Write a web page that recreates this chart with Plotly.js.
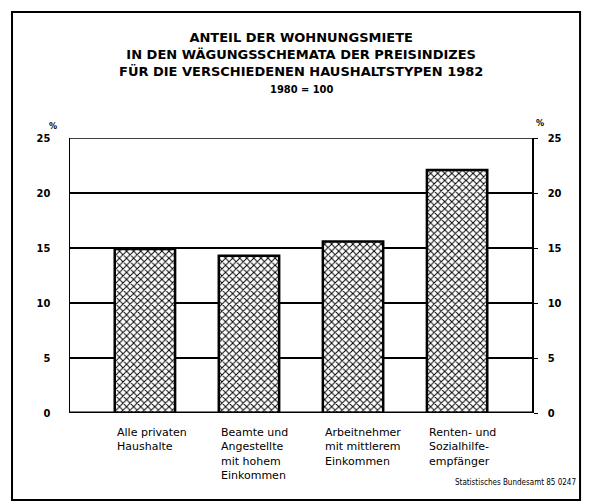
<!DOCTYPE html>
<html><head><meta charset="utf-8">
<script src="https://cdn.plot.ly/plotly-3.0.1.min.js"></script>
<style>body{margin:0;background:#fff}#c{width:598px;height:504px}</style>
</head><body><div id="c"></div>
<script>
const categories = [
  "Alle privaten<br>Haushalte",
  "Beamte und<br>Angestellte<br>mit hohem<br>Einkommen",
  "Arbeitnehmer<br>mit mittlerem<br>Einkommen",
  "Renten- und<br>Sozialhilfe-<br>empfänger"
];
const values = [14.9, 14.3, 15.6, 22.1];
const yTicks = [0, 5, 10, 15, 20, 25];
const titleLines = ["ANTEIL DER WOHNUNGSMIETE", "IN DEN WÄGUNGSSCHEMATA DER PREISINDIZES", "FÜR DIE VERSCHIEDENEN HAUSHALTSTYPEN 1982", "1980 = 100"];
const source = "Statistisches Bundesamt 85 0247";

const pos = categories.map((c, i) => i);
const font = "'DejaVu Sans Condensed', 'Liberation Sans Narrow', sans-serif";
const wide = "'DejaVu Sans', sans-serif";

const trace = {
  type: "bar", x: pos, y: values, width: 0.58,
  marker: {color: "#fff", line: {color: "#000", width: 2.5},
    pattern: {shape: "x", fgcolor: "#000", bgcolor: "#fff", size: 5, solidity: 0.35}},
  hoverinfo: "none"
};
const trace2 = {type: "scatter", x: [0], y: [0], yaxis: "y2", mode: "none", showlegend: false, hoverinfo: "none"};

const annotations = [];
categories.forEach((c, i) => {
  annotations.push({x: i - 0.29, y: -0.04, xref: "x", yref: "paper", text: c, showarrow: false,
    xanchor: "left", yanchor: "top", align: "left", font: {family: wide, size: 11, color: "#000"}});
});
annotations.push({x: 0.5, y: 1.40, xref: "paper", yref: "paper", showarrow: false, yanchor: "top",
  text: "<b>" + titleLines.slice(0, 3).join("<br>") + "</b>", font: {family: wide, size: 13, color: "#000"}});
annotations.push({x: 0.5, y: 1.175, xref: "paper", yref: "paper", showarrow: false, yanchor: "middle",
  text: "<b>" + titleLines[3] + "</b>", font: {family: font, size: 11, color: "#000"}});
annotations.push({x: 1.1, y: -0.276, xref: "paper", yref: "paper", showarrow: false, xanchor: "right",
  text: source, font: {family: font, size: 8, color: "#000"}});
annotations.push({x: -0.05, y: 1.07, xref: "paper", yref: "paper", showarrow: false, text: "<b>%</b>", font: {family: font, size: 9, color: "#000"}});
annotations.push({x: 1.03, y: 1.08, xref: "paper", yref: "paper", showarrow: false, text: "<b>%</b>", font: {family: font, size: 9, color: "#000"}});

const yax = {range: [0, 25], tickvals: yTicks, ticktext: yTicks.map(v => "<b>" + v + "</b>"),
  showgrid: true, gridcolor: "#000", gridwidth: 1.5,
  zeroline: false, showline: true, linecolor: "#000", linewidth: 1.5, ticks: "",
  tickfont: {family: font, size: 11, color: "#000"}, fixedrange: true};

const layout = {
  width: 598, height: 504, margin: {l: 70, r: 66, t: 138, b: 91},
  paper_bgcolor: "#fff", plot_bgcolor: "#fff", showlegend: false,
  font: {family: font, color: "#000"},
  xaxis: {range: [-0.72, 3.72], showticklabels: false, showgrid: false, zeroline: false, ticks: "", fixedrange: true},
  yaxis: Object.assign({}, yax, {ticklabelstandoff: 16}),
  yaxis2: Object.assign({}, yax, {overlaying: "y", side: "right", showgrid: false, ticks: "outside", ticklen: 4, tickcolor: "#000", ticklabelstandoff: 8}),
  annotations: annotations,
  shapes: [
    {type: "line", xref: "paper", yref: "y", x0: 0, x1: 1, y0: 0, y1: 0, line: {color: "#000", width: 3}},
    {type: "line", xref: "paper", yref: "y", x0: 0, x1: 1, y0: 25, y1: 25, line: {color: "#000", width: 1.5}},
    {type: "rect", xref: "paper", yref: "paper", x0: -0.1255, x1: 1.104, y0: -0.316, y1: 1.458, line: {color: "#000", width: 2}}
  ]
};
Plotly.newPlot("c", [trace, trace2], layout, {staticPlot: true, displayModeBar: false});
</script></body></html>
